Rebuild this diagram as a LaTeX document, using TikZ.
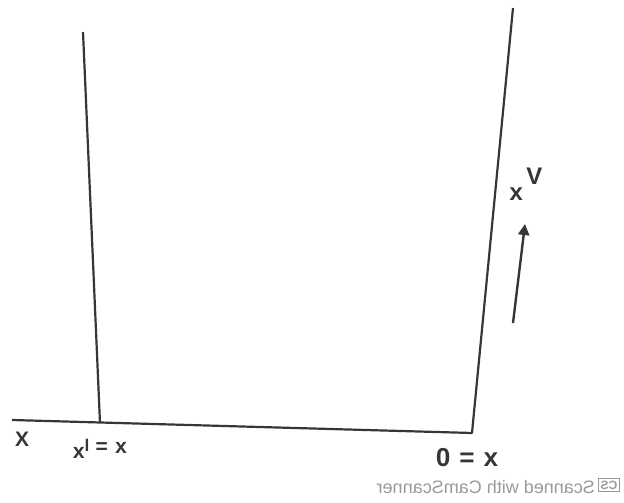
\documentclass[tikz,border=0pt]{standalone}
\usepackage{fontspec}
\setmainfont{Liberation Sans}
\usepackage{graphicx}
\usetikzlibrary{arrows.meta}
\definecolor{ink}{HTML}{363636}
\definecolor{wm}{HTML}{9A9A9A}
\tikzset{
  wall/.style={draw=ink, line width=2.2pt, line join=round},
  lbl/.style={text=ink, inner sep=0pt, font=\fontsize{21}{25}\selectfont\bfseries},
  wmark/.style={text=wm, inner sep=0pt, font=\fontsize{18}{21}\selectfont}
}
\begin{document}
\begin{tikzpicture}[x=1pt,y=-1pt]
\useasboundingbox (0,0) rectangle (624,503);
% corner points
\coordinate (bl) at (12,420);
\coordinate (br) at (472,433);
\coordinate (tr) at (513,8);
\coordinate (lt) at (83,32);
\coordinate (lb) at (100,423);
\coordinate (at) at (513,323);
\coordinate (ah) at (525,224);
% walls
\draw[wall] (bl) -- (br) -- (tr);
\draw[wall] (lt) -- (lb);
\draw[draw=ink, line width=2.4pt, -{Triangle[length=11pt,width=11pt]}] (at) -- (ah);
% labels (mirrored as in the scan)
\node[lbl] (X) at (22,439) {\reflectbox{X}};
\node[lbl, anchor=base] (xl) at (100,453)
  {\reflectbox{x\hspace{0.35em}=\hspace{0.3em}\raisebox{2pt}{\fontsize{17}{20}\selectfont l}\raisebox{-5pt}{x}}};
\node[lbl, font=\fontsize{26}{30}\selectfont\bfseries, anchor=base] (x0) at (467,466)
  {\reflectbox{x\hspace{0.35em}=\hspace{0.35em}0}};
\node[lbl, font=\fontsize{24}{28}\selectfont\bfseries, anchor=base] (V) at (526,184)
  {\reflectbox{V\hspace{0.15em}\raisebox{-16pt}{x}}};
% watermark
\node[wmark, anchor=east] (wm) at (595,487) {\reflectbox{Scanned with CamScanner}};
\node[draw=wm, line width=1.2pt, text=wm, inner sep=2pt, font=\fontsize{12}{13}\selectfont\bfseries, anchor=west] (cs) at (598,485) {\reflectbox{CS}};
\end{tikzpicture}
\end{document}
